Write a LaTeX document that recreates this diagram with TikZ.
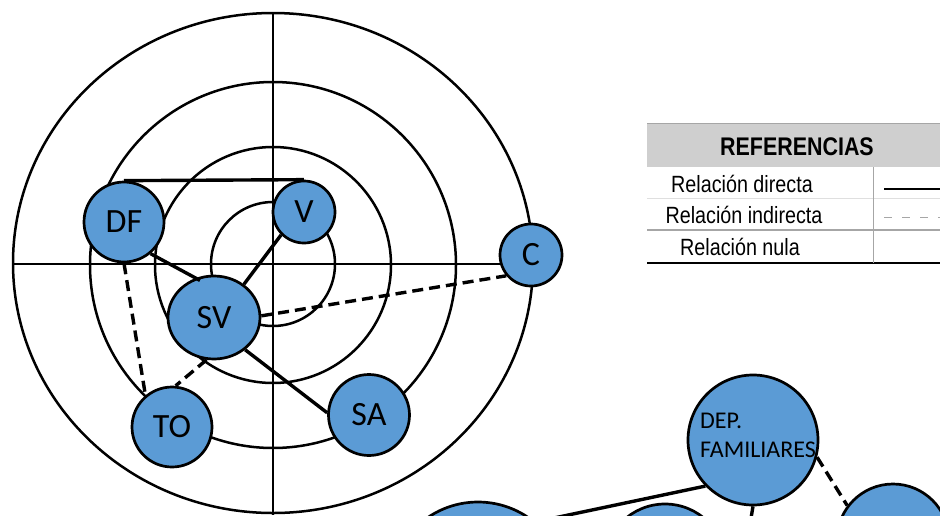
\documentclass[tikz,border=0pt]{standalone}
\usepackage{fontspec}
\setmainfont{Carlito}
\newfontfamily\narrowfont[FakeStretch=0.84]{Liberation Sans}
\usepackage{xcolor}
\usepackage{tikz}
\usetikzlibrary{shapes.geometric,positioning,calc}
\definecolor{actorblue}{HTML}{5B9BD5}
\definecolor{headgray}{HTML}{CFCFCF}

\begin{document}
\begin{tikzpicture}[x=1pt, y=-1pt,
    actor/.style={circle, draw, line width=2.7pt, fill=actorblue, inner sep=0pt,
                  font=\fontsize{34}{36}\selectfont},
    ring/.style={line width=2.5pt},
    axis/.style={line width=1.3pt},
    direct/.style={line width=3.4pt},
    indirect/.style={line width=3.4pt, dash pattern=on 11pt off 6pt},
    legtext/.style={anchor=base, inner sep=0pt, font=\narrowfont\fontsize{23.5}{25}\selectfont}]

  \useasboundingbox (0,0) rectangle (940,515);
  \clip (0,0) rectangle (940,515);

  % rings and axes
  \draw[ring] (273,263) ellipse [x radius=260, y radius=250];
  \draw[ring] (273,265) circle [radius=183];
  \draw[ring] (273,265) circle [radius=118];
  \draw[ring] (273,264) circle [radius=62];
  \draw[axis] (13,264) -- (533,264);
  \draw[axis] (273,13) -- (273,515);

  % actors
  \node[actor, minimum size=80] (df) at (124,222) {DF};
  \node[actor, minimum size=62] (v) at (304,212) {V};
  \node[actor, ellipse, minimum width=92, minimum height=83] (sv) at (214,317.5) {SV};
  \node[actor, minimum size=62] (c) at (531,255) {C};
  \node[actor, minimum size=80] (to) at (172,427) {TO};
  \node[actor, minimum size=81] (sa) at (369,415) {SA};
  \node[actor, minimum size=130] (dep) at (753,440) {};
  \node[anchor=north west, inner sep=0pt, align=left, font=\fontsize{24}{29}\selectfont]
       (deptext) at (700,413) {DEP.\\FAMILIARES};
  \node[actor, minimum size=178] (lowleft) at (478,591) {};
  \node[actor, minimum size=122] (lowmid) at (665,565) {};
  \node[actor, minimum size=112] (lowright) at (893,540) {};
  \coordinate (depdown) at (744,560);

  % relations
  \draw[direct] (df.north) -- (v.north);
  \draw[direct, shorten >=-5pt] (df.-50) -- (sv.115);
  \draw[direct] (v.225) -- (sv.48);
  \draw[direct] (sv.-46) -- (sa.177);
  \draw[indirect] (sv.2) -- (c.220);
  \draw[indirect] (sv.-100) -- (to.85);
  \draw[indirect] (df.south) -- (to.130);
  \draw[direct] (dep.224) -- (lowleft.50);
  \draw[direct] (dep.south) -- (depdown);
  \draw[indirect] (dep.-15) -- (lowright.143);

  % legend
  \fill[headgray] (647,123) rectangle (940,167);
  \draw[gray!70, line width=1pt] (647,123) -- (940,123);
  \node[anchor=base, inner sep=0pt, font=\narrowfont\bfseries\fontsize{25.5}{27}\selectfont]
       (refhead) at (797,155) {REFERENCIAS};
  \node[legtext] (refdirect) at (742,192) {Relación directa};
  \node[legtext] (refindirect) at (744,223) {Relación indirecta};
  \node[legtext] (refnull) at (740,255) {Relación nula};
  \draw[gray!25, line width=0.8pt] (647,198) -- (940,198);
  \draw[gray!70, line width=1.2pt] (647,230) -- (940,230);
  \draw[line width=1.3pt] (647,263) -- (940,263);
  \draw[gray!70, line width=1pt] (873,167) -- (873,263);
  \coordinate (sampleA) at (884,189);
  \coordinate (sampleB) at (884,217);
  \draw[line width=1.5pt] (sampleA) -- ++(56,0);
  \draw[gray!70, line width=1pt, dash pattern=on 8pt off 10pt] (sampleB) -- ++(56,0);
\end{tikzpicture}
\end{document}
